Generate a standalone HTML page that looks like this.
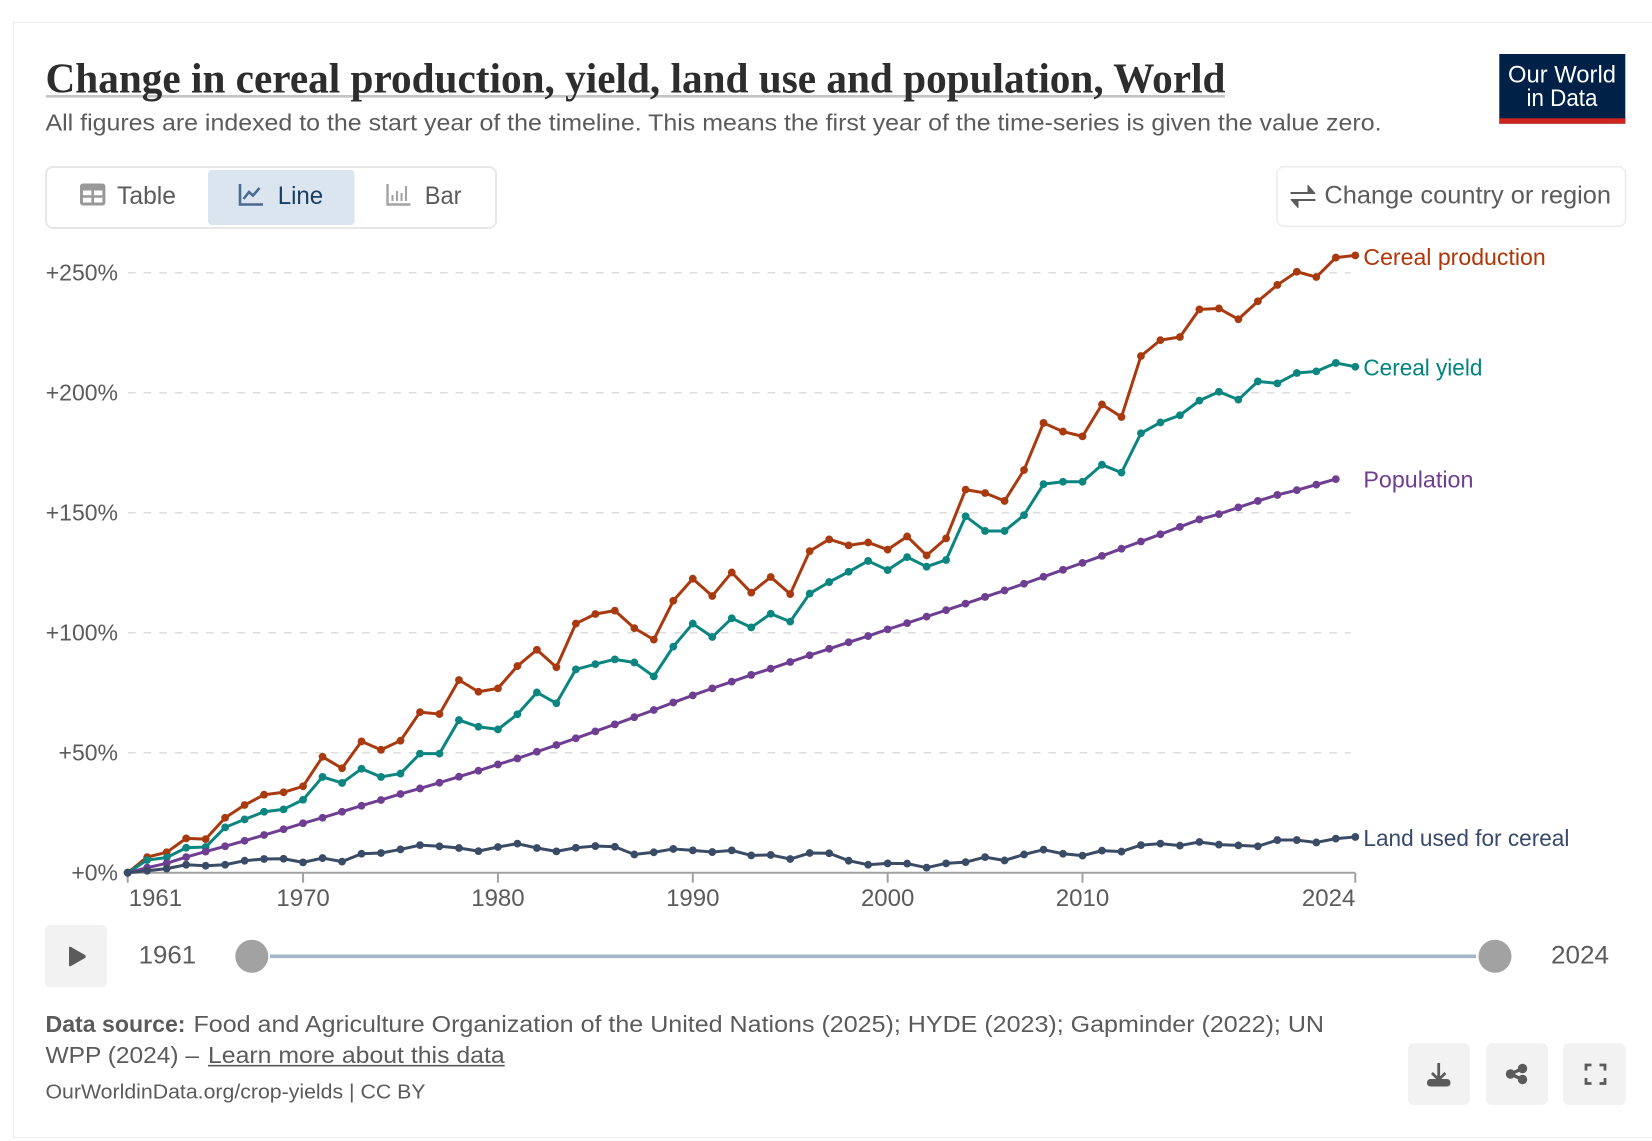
<!DOCTYPE html>
<html lang="en">
<head>
<meta charset="utf-8">
<title>Change in cereal production, yield, land use and population, World</title>
<style>
html,body{margin:0;padding:0;background:#fff;width:1652px;height:1141px;overflow:hidden}
svg{display:block;font-family:"Liberation Sans",sans-serif}
text{fill:#5b5b5b}
</style>
</head>
<body>
<svg id="root" xmlns="http://www.w3.org/2000/svg" width="1652" height="1141" viewBox="0 0 1652 1141">
  <rect x="13.5" y="22.5" width="1700" height="1115" fill="#fff" stroke="#efefef" stroke-width="1.2"/>

  <line x1="46" y1="96.3" x2="1225" y2="96.3" stroke="#c4c4c4" stroke-width="2.6"/>
  <text x="45.5" y="92.5" font-family="'Liberation Serif',serif" font-weight="700" font-size="42" textLength="1180" lengthAdjust="spacingAndGlyphs" style="fill:#2d2d2d">Change in cereal production, yield, land use and population, World</text>
  <text x="45.5" y="130.5" font-size="23.5" textLength="1336" lengthAdjust="spacingAndGlyphs">All figures are indexed to the start year of the timeline. This means the first year of the time-series is given the value zero.</text>

  <g>
    <rect x="1499.3" y="54" width="126" height="69.7" fill="#002147"/>
    <rect x="1499.3" y="118.3" width="126" height="5.4" fill="#ce261e"/>
    <text x="1508" y="82.7" font-size="24" textLength="108" lengthAdjust="spacingAndGlyphs" style="fill:#fff">Our World</text>
    <text x="1526.5" y="106" font-size="24" textLength="71" lengthAdjust="spacingAndGlyphs" style="fill:#fff">in Data</text>
  </g>

  <g>
    <rect x="46" y="167" width="450" height="61" rx="7" fill="#fff" stroke="#e7e7e7" stroke-width="2"/>
    <g>
      <rect x="80" y="183.5" width="25.4" height="22" rx="3" fill="#999"/>
      <path d="M83 190.500h19.400v12h-19.400z" fill="#fff"/>
      <path d="M92.700 190v13M83 196.500h19.400" fill="none" stroke="#999" stroke-width="2.600"/>
      <text x="117" y="204" font-size="25" textLength="59" lengthAdjust="spacingAndGlyphs">Table</text>
    </g>
    <g>
      <rect x="208" y="170" width="146.600" height="55" rx="4" fill="#dbe5f0"/>
      <path d="M240 184v20.500h23" fill="none" stroke="#4a6a92" stroke-width="2.600"/>
      <path d="M243.500 199l5.500-7 4 3.500 6.500-7.500" fill="none" stroke="#4a6a92" stroke-width="2.600"/>
      <text x="277.700" y="204" font-size="25" textLength="45.500" lengthAdjust="spacingAndGlyphs" style="fill:#1d3d63">Line</text>
    </g>
    <g>
      <path d="M387.500 184v20.500h23" fill="none" stroke="#a3a3a3" stroke-width="2.400"/>
      <path d="M392.500 195v6M397 191v10M401.500 193v8M406 186v15" fill="none" stroke="#a3a3a3" stroke-width="2"/>
      <text x="424.700" y="204" font-size="25" textLength="36.800" lengthAdjust="spacingAndGlyphs">Bar</text>
    </g>
  </g>

  <g>
    <rect x="1277" y="166.800" width="348.500" height="59.500" rx="7" fill="#fff" stroke="#ececec" stroke-width="1.500"/>
    <path d="M1291 192.500h17v-7l7 8h-24zM1315 200.500h-17v7l-7-8h24z" fill="#5b5b5b" stroke="#5b5b5b" stroke-width="1" stroke-linejoin="round"/>
    <text x="1324.400" y="203.500" font-size="25" textLength="286.600" lengthAdjust="spacingAndGlyphs">Change country or region</text>
  </g>

  <g id="chart"></g>

  <text x="1363.400" y="265" font-size="23" textLength="182.300" lengthAdjust="spacingAndGlyphs" style="fill:#b13507">Cereal production</text>
  <text x="1363.400" y="375.500" font-size="23" textLength="119" lengthAdjust="spacingAndGlyphs" style="fill:#00847e">Cereal yield</text>
  <text x="1363.400" y="487.500" font-size="23" textLength="110" lengthAdjust="spacingAndGlyphs" style="fill:#6d3e91">Population</text>
  <text x="1363.400" y="846" font-size="23" textLength="206" lengthAdjust="spacingAndGlyphs" style="fill:#38496b">Land used for cereal</text>

  <g>
    <rect x="44.800" y="925" width="62.200" height="62.300" rx="5" fill="#f2f2f2"/>
    <path d="M69 948q0-2 2-1l14 8q1.500 1.500 0 3l-14 8q-2 1-2-1z" fill="#5b5b5b"/>
    <text x="138.600" y="963.500" font-size="25" textLength="57.500" lengthAdjust="spacingAndGlyphs">1961</text>
    <line x1="270" y1="956.300" x2="1476" y2="956.300" stroke="#a4b6c6" stroke-width="3.600"/>
    <circle cx="251.800" cy="956.300" r="16.500" fill="#a2a2a2"/>
    <circle cx="1495" cy="956.300" r="16.500" fill="#a2a2a2"/>
    <text x="1551" y="963.500" font-size="25" textLength="58" lengthAdjust="spacingAndGlyphs">2024</text>
  </g>

  <g>
    <text x="45.500" y="1032" font-size="23.500" font-weight="700" textLength="140" lengthAdjust="spacingAndGlyphs">Data source:</text>
    <text x="193.500" y="1032" font-size="23.500" textLength="1130.500" lengthAdjust="spacingAndGlyphs">Food and Agriculture Organization of the United Nations (2025); HYDE (2023); Gapminder (2022); UN</text>
    <text x="45.500" y="1063" font-size="23.500" textLength="153.500" lengthAdjust="spacingAndGlyphs">WPP (2024) –</text>
    <text x="208" y="1063" font-size="23.500" textLength="296.700" lengthAdjust="spacingAndGlyphs">Learn more about this data</text>
    <line x1="208" y1="1065.700" x2="504.700" y2="1065.700" stroke="#5b5b5b" stroke-width="1.600"/>
    <text x="45.500" y="1098.500" font-size="20.500" textLength="380" lengthAdjust="spacingAndGlyphs">OurWorldinData.org/crop-yields | CC BY</text>
  </g>

  <g>
    <rect x="1408" y="1043.300" width="61.800" height="61.700" rx="6" fill="#f2f2f2"/>
    <path d="M1438.700 1063v16M1432 1073l6.700 6.700 6.700-6.700" fill="none" stroke="#5b5b5b" stroke-width="2.800"/>
    <rect x="1427" y="1079" width="23.500" height="7.500" rx="3.500" fill="#5b5b5b"/>
  </g>
  <g>
    <rect x="1486" y="1043.300" width="62" height="61.700" rx="6" fill="#f2f2f2"/>
    <path d="M1522.500 1068.500l-12 5.500 12 5.500" fill="none" stroke="#5b5b5b" stroke-width="3.400"/>
    <circle cx="1522.500" cy="1068.500" r="4.700" fill="#5b5b5b"/>
    <circle cx="1510.500" cy="1074" r="4.700" fill="#5b5b5b"/>
    <circle cx="1522.500" cy="1079.500" r="4.700" fill="#5b5b5b"/>
  </g>
  <g>
    <rect x="1563" y="1043.300" width="62.800" height="61.700" rx="6" fill="#f2f2f2"/>
    <path d="M1586 1070.500v-5.500h5.500M1599.500 1065h5.500v5.500M1605 1078v5.500h-5.500M1591.500 1083.500h-5.500v-5.500" fill="none" stroke="#5b5b5b" stroke-width="2.800"/>
  </g>
</svg>

<script>
const years = [1961,1962,1963,1964,1965,1966,1967,1968,1969,1970,1971,1972,1973,1974,1975,1976,1977,1978,1979,1980,1981,1982,1983,1984,1985,1986,1987,1988,1989,1990,1991,1992,1993,1994,1995,1996,1997,1998,1999,2000,2001,2002,2003,2004,2005,2006,2007,2008,2009,2010,2011,2012,2013,2014,2015,2016,2017,2018,2019,2020,2021,2022,2023,2024];
const cerealProduction = [0,6.5,8.5,14.3,14.0,22.9,28.2,32.5,33.5,36.0,48.3,43.5,54.7,51.2,55.0,66.9,66.1,80.3,75.4,76.8,86.1,92.9,85.6,103.8,107.8,109.2,101.9,97.1,113.3,122.5,115.3,125.1,116.7,123.2,116.1,134.0,138.9,136.4,137.6,134.6,140.1,132.2,139.3,159.6,158.2,154.9,167.8,187.4,183.8,181.8,195.1,189.9,215.3,221.9,223.2,234.7,235.1,230.6,238.1,244.9,250.4,248.2,256.3,257.2];
const cerealYield = [0,5.3,6.3,10.4,10.7,18.9,22.2,25.4,26.4,30.4,39.9,37.4,43.3,39.9,41.3,49.6,49.6,63.6,60.8,59.7,66.0,75.1,70.6,84.7,86.9,88.9,87.6,81.8,94.2,103.8,98.2,106.0,102.2,107.9,104.6,116.3,121.1,125.4,129.9,126.1,131.5,127.5,130.3,148.5,142.4,142.4,149.0,161.9,162.9,162.9,170.0,166.7,183.1,187.6,190.6,196.7,200.4,197.1,204.7,203.9,208.2,208.9,212.4,210.8];
const population = [0,2.1,3.9,6.5,8.8,11.0,13.3,15.7,18.1,20.6,22.9,25.4,27.9,30.3,32.8,35.1,37.5,40.0,42.5,45.1,47.6,50.4,53.2,56.0,58.9,61.8,64.8,67.8,70.9,73.9,76.8,79.6,82.4,85.0,87.8,90.6,93.3,96.0,98.6,101.4,104.0,106.7,109.4,112.1,114.9,117.6,120.4,123.3,126.2,129.1,132.0,135.0,138.0,141.0,144.1,147.2,149.4,152.2,154.9,157.4,159.4,161.7,164.0];
const landUsedForCereal = [0,0.8,1.7,3.3,2.9,3.3,5.0,5.7,5.8,4.3,6.1,4.6,7.9,8.2,9.7,11.5,11.0,10.3,9.0,10.7,12.1,10.3,8.9,10.4,11.1,10.8,7.6,8.5,9.9,9.3,8.6,9.3,7.2,7.4,5.7,8.2,8.1,5.0,3.3,3.9,3.8,2.1,3.9,4.4,6.5,5.1,7.6,9.6,7.9,7.1,9.2,8.8,11.5,12.1,11.3,12.8,11.7,11.4,11.0,13.6,13.6,12.6,14.2,14.9];
const yTicks = [0,50,100,150,200,250];
const yTickLabels = ['+0%','+50%','+100%','+150%','+200%','+250%'];
const xTicks = [1961,1970,1980,1990,2000,2010,2024];
const xTickLabels = ['1961','1970','1980','1990','2000','2010','2024'];

const SVGNS = 'http://www.w3.org/2000/svg';
const chart = document.getElementById('chart');
function xScale(year){ return 127.7 + (year - 1961) * (1355.3 - 127.7) / (2024 - 1961); }
function yScale(value){ return 872.7 - value * (872.7 - 272.7) / 250; }
function make(tag, attrs){
  const el = document.createElementNS(SVGNS, tag);
  for (const k in attrs) el.setAttribute(k, attrs[k]);
  return el;
}

yTicks.forEach(function(t, i){
  if (t !== 0) {
    const grid = make('line', {x1: 128, x2: 1350.7, y1: yScale(t), y2: yScale(t), stroke: '#dddddd', 'stroke-width': 1.5, 'stroke-dasharray': '7.7 7.9'});
    
    
    chart.appendChild(grid);
  }
  const lab = make('text', {x: 118, y: yScale(t) + 8, 'text-anchor': 'end', 'font-size': 23});
  lab.textContent = yTickLabels[i];
  
  
  chart.appendChild(lab);
});

const axis = make('line', {x1: xScale(1961), x2: xScale(2024), y1: yScale(0), y2: yScale(0), stroke: '#a1a1a1', 'stroke-width': 2});


chart.appendChild(axis);

xTicks.forEach(function(t, i){
  const tick = make('line', {x1: xScale(t), x2: xScale(t), y1: yScale(0), y2: yScale(0) + 10, stroke: '#a1a1a1', 'stroke-width': 2});
  
  
  chart.appendChild(tick);
  let anchor = 'middle';
  if (i === 0) anchor = 'start';
  if (i === xTicks.length - 1) anchor = 'end';
  const lab = make('text', {x: xScale(t) + (i === 0 ? 1 : 0), y: 906, 'text-anchor': anchor, 'font-size': 24});
  lab.textContent = xTickLabels[i];
  
  
  chart.appendChild(lab);
});

function drawSeries(values, color, seriesName, lineName, pointName){
  const group = make('g', {});
  
  
  const d = values.map(function(v, i){ return (i ? 'L' : 'M') + xScale(years[i]).toFixed(2) + ' ' + yScale(v).toFixed(2); }).join('');
  const path = make('path', {d: d, fill: 'none', stroke: color, 'stroke-width': 3, 'stroke-linejoin': 'round'});
  
  
  group.appendChild(path);
  values.forEach(function(v, i){
    const dot = make('circle', {cx: xScale(years[i]), cy: yScale(v), r: 3.9, fill: color});
    
    
    group.appendChild(dot);
  });
  chart.appendChild(group);
}
drawSeries(cerealProduction, '#a93a10', 'series-cereal-production', 'line-cereal-production', 'point-cereal-production');
drawSeries(cerealYield, '#0b857f', 'series-cereal-yield', 'line-cereal-yield', 'point-cereal-yield');
drawSeries(population, '#6d3e91', 'series-population', 'line-population', 'point-population');
drawSeries(landUsedForCereal, '#3a4b66', 'series-land-used', 'line-land-used', 'point-land-used');
</script>
</body>
</html>
